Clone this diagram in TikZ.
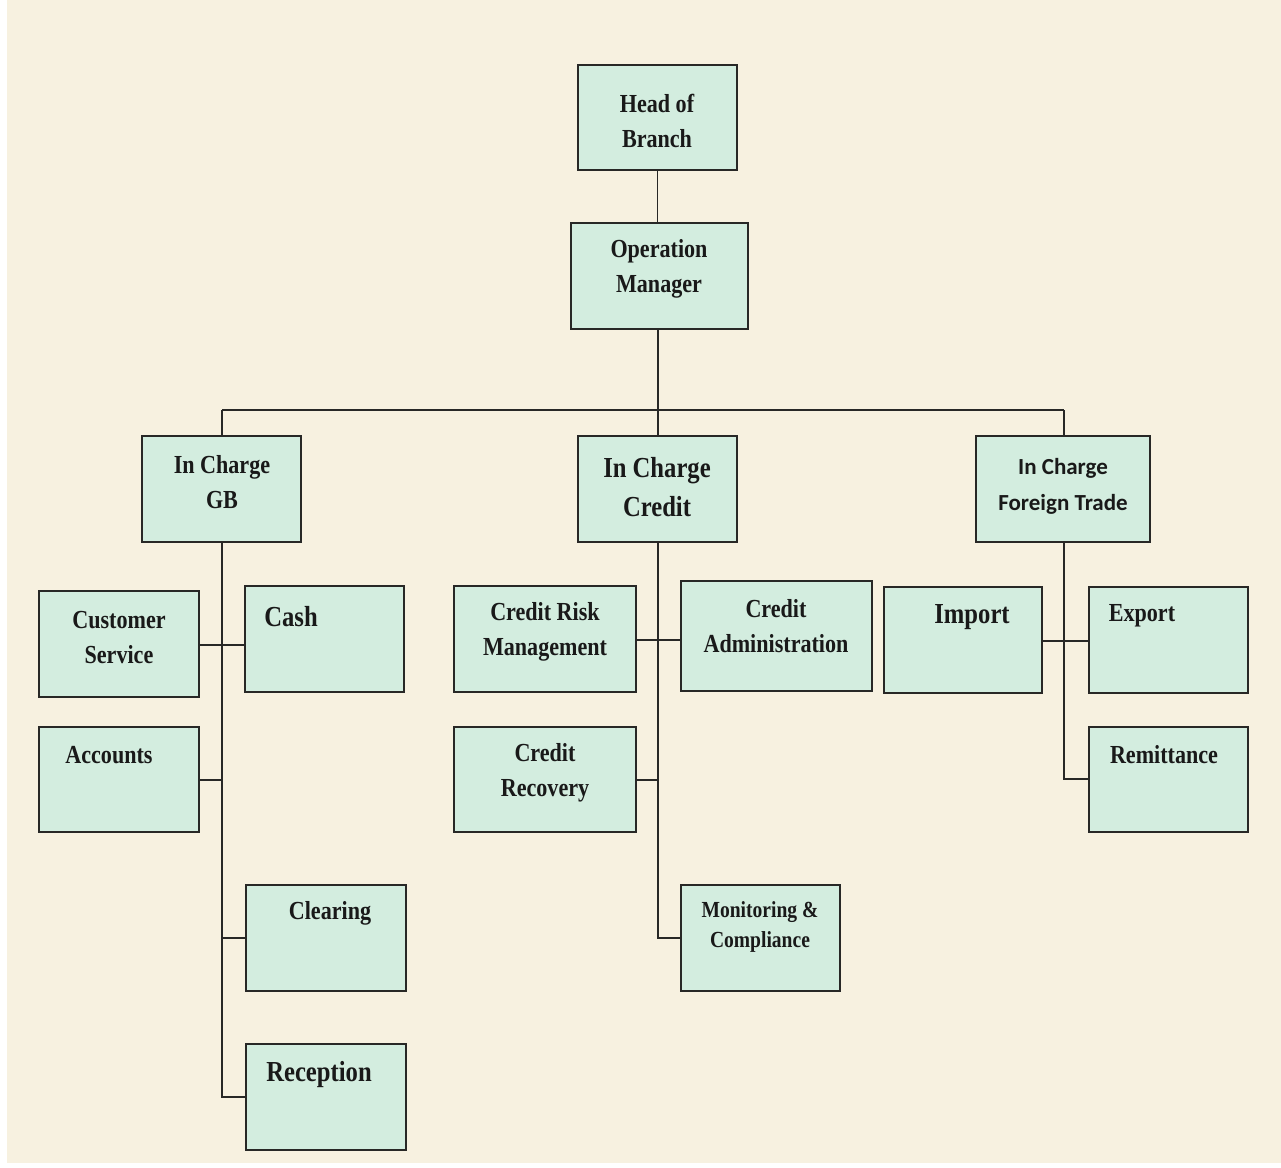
\documentclass[tikz,border=0pt]{standalone}
\usepackage{fontspec}
\setmainfont{Liberation Serif}[FakeStretch=0.85]
\newfontfamily\carl{Carlito}
\definecolor{bgcream}{RGB}{247,241,224}
\definecolor{boxfill}{RGB}{211,237,223}
\definecolor{linedark}{RGB}{40,40,38}
\begin{document}
\begin{tikzpicture}[x=1pt,y=-1pt,
  box/.style={draw=linedark,line width=1.9pt,fill=boxfill,inner sep=0pt},
  lbl/.style={font=\bfseries\fontsize{26}{35}\selectfont,align=center,inner sep=0pt,text=black!90},
  lblbig/.style={font=\bfseries\fontsize{29}{39}\selectfont,align=center,inner sep=0pt,text=black!90},
  lblsm/.style={font=\bfseries\fontsize{23}{30}\selectfont,align=center,inner sep=0pt,text=black!90},
  lblsans/.style={font=\carl\bfseries\fontsize{23}{36}\selectfont,align=center,inner sep=0pt,text=black!90},
  conn/.style={draw=linedark,line width=1.9pt}]
\useasboundingbox (0,0) rectangle (1281,1167);
\fill[white] (0,0) rectangle (1281,1167);
\fill[bgcream] (7,0) rectangle (1281,1163);
% boxes: (x1,y1) to (x2,y2)
\newcommand{\bx}[5]{\node[box,minimum width=#4-#2,minimum height=#5-#3] (#1) at ({(#2+#4)/2},{(#3+#5)/2}) {};}
\bx{head}{578}{65}{737}{170}
\bx{opm}{571}{223}{748}{329}
\bx{gb}{142}{436}{301}{542}
\bx{cr}{578}{436}{737}{542}
\bx{ft}{976}{436}{1150}{542}
\bx{cs}{39}{591}{199}{697}
\bx{cash}{245}{586}{404}{692}
\bx{acc}{39}{727}{199}{832}
\bx{clr}{246}{885}{406}{991}
\bx{rec}{246}{1044}{406}{1150}
\bx{crm}{454}{586}{636}{692}
\bx{cad}{681}{581}{872}{691}
\bx{crec}{454}{727}{636}{832}
\bx{mon}{681}{885}{840}{991}
\bx{imp}{884}{587}{1042}{693}
\bx{exp}{1089}{587}{1248}{693}
\bx{rem}{1089}{727}{1248}{832}
% labels
\node[lbl] (thead) at (657,121) {Head of\\Branch};
\node[lbl] (topm) at (659,269) {Operation\\Manager};
\node[lbl] (tgb) at (222,482) {In Charge\\GB};
\node[lblbig] (tcr) at (657,487) {In Charge\\Credit};
\node[lblsans] (tft) at (1063,486) {In Charge\\Foreign Trade};
\node[lbl] (tcs) at (119,638) {Customer\\Service};
\node[lblbig] (tcash) at (291,617) {Cash};
\node[lbl] (tacc) at (109,755) {Accounts};
\node[lbl] (tclr) at (330,913) {Clearing};
\node[lblbig] (trec) at (319,1075) {Reception};
\node[lbl] (tcrm) at (545,632) {Credit Risk\\Management};
\node[lbl] (tcad) at (776,626) {Credit\\Administration};
\node[lbl] (tcrec) at (545,773) {Credit\\Recovery};
\node[lblsm] (tmon) at (760,927) {Monitoring \&\\Compliance};
\node[lblbig] (timp) at (972,617) {Import};
\node[lbl] (texp) at (1142,616) {Export};
\node[lbl] (trem) at (1164,755) {Remittance};
% bus coordinates
\coordinate (busL) at (222,410);
\coordinate (busM) at (658,410);
\coordinate (busR) at (1064,410);
% connectors
\draw[conn] (head.south) -- (head.south |- opm.north);
\draw[conn] (opm.south -| busM) -- (busM);
\draw[conn] (busL) -- (busR);
\draw[conn] (busL) -- (gb.north -| busL);
\draw[conn] (busM) -- (cr.north -| busM);
\draw[conn] (busR) -- (ft.north -| busR);
% GB branch
\coordinate (gbEnd) at (222,1097);
\draw[conn] (gb.south -| gbEnd) -- (gbEnd) -- (gbEnd -| rec.west);
\draw[conn] (cs.east |- 0,645) -- (cash.west |- 0,645);
\draw[conn] (acc.east |- 0,780) -- (222,780);
\draw[conn] (222,938) -- (clr.west |- 0,938);
% Credit branch
\coordinate (crEnd) at (658,938);
\draw[conn] (cr.south -| crEnd) -- (crEnd) -- (crEnd -| mon.west);
\draw[conn] (crm.east |- 0,640) -- (cad.west |- 0,640);
\draw[conn] (crec.east |- 0,780) -- (658,780);
% Foreign trade branch
\coordinate (ftEnd) at (1064,779);
\draw[conn] (ft.south -| ftEnd) -- (ftEnd) -- (ftEnd -| rem.west);
\draw[conn] (imp.east |- 0,641) -- (exp.west |- 0,641);
\end{tikzpicture}
\end{document}
